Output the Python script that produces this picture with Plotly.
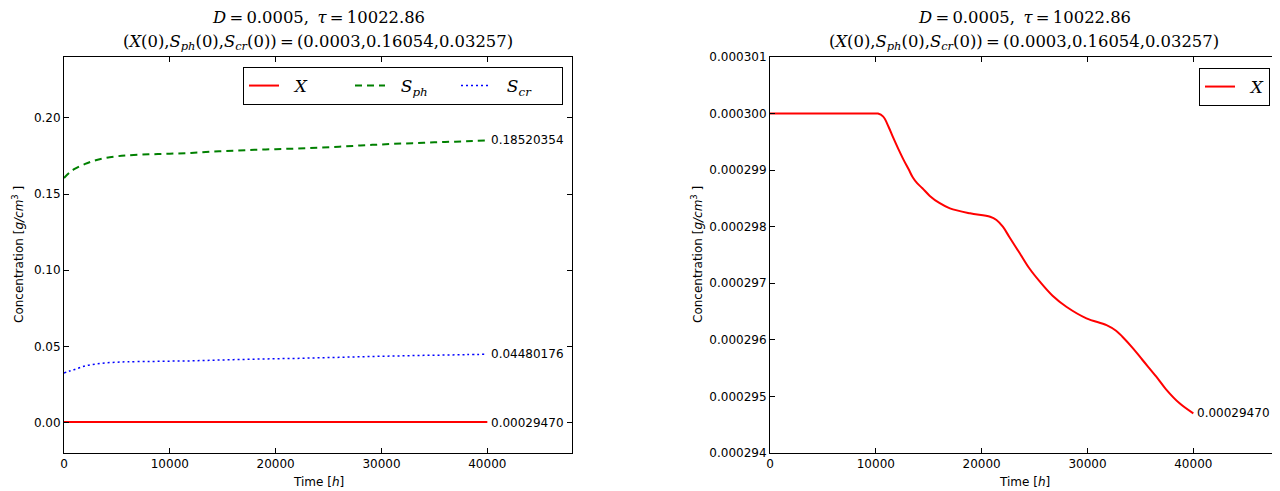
import plotly.graph_objects as go

# ---- data ----
t_x = [0, 2500, 5000, 7500, 9900, 10200, 10700, 11200, 11600, 12100, 12600, 13100, 13500,
       13900, 14400, 15100, 16000, 17000, 18900, 20800, 21400, 22000, 22600, 23600, 24500,
       25500, 26700, 28000, 29900, 31800, 32700, 33300, 34300, 35200, 36500, 37400,
       38700, 40000]
x_vals = [3.0000e-4, 3.0000e-4, 3.0000e-4, 3.0000e-4, 3.0000e-4, 3.0000e-4, 2.99945e-4,
          2.99768e-4, 2.99591e-4, 2.99386e-4, 2.99191e-4, 2.99015e-4, 2.98870e-4,
          2.98770e-4, 2.98680e-4, 2.98545e-4, 2.98420e-4, 2.98325e-4, 2.98237e-4,
          2.98177e-4, 2.98119e-4, 2.98000e-4, 2.97824e-4, 2.97530e-4, 2.97265e-4,
          2.97028e-4, 2.96780e-4, 2.96586e-4, 2.96381e-4, 2.96262e-4, 2.96162e-4,
          2.96056e-4, 2.95851e-4, 2.95644e-4, 2.95349e-4, 2.95130e-4, 2.94878e-4,
          2.94700e-4]

t_s = [0, 500, 1000, 2000, 3000, 4000, 5000, 6000, 8000, 10000, 12000, 14000, 16000,
       18000, 20000, 22000, 24000, 26000, 28000, 30000, 32000, 34000, 36000, 38000, 40000]
s_ph = [0.16054, 0.1640, 0.1665, 0.1698, 0.1722, 0.1738, 0.1748, 0.1754, 0.1761, 0.1765,
        0.1770, 0.1779, 0.1785, 0.1791, 0.1795, 0.1799, 0.1805, 0.1811, 0.1819, 0.1826,
        0.1832, 0.1837, 0.1842, 0.1847, 0.18520354]
s_cr = [0.03257, 0.0338, 0.0348, 0.0372, 0.0384, 0.0392, 0.0396, 0.0399, 0.0401, 0.0403,
        0.0405, 0.0409, 0.0413, 0.0416, 0.0419, 0.0421, 0.0425, 0.0428, 0.0432, 0.0435,
        0.0438, 0.0441, 0.0443, 0.0446, 0.04480176]

end_labels_left = ["0.18520354", "0.04480176", "0.00029470"]
end_label_right = "0.00029470"

x_ticks = [0, 10000, 20000, 30000, 40000]
y_ticks_left = [0.00, 0.05, 0.10, 0.15, 0.20]
y_ticks_right = [0.000294, 0.000295, 0.000296, 0.000297, 0.000298, 0.000299, 0.000300, 0.000301]

title_line1 = "<i>D</i>\u2009=\u20090.0005, \u2009<i>τ</i>\u2009=\u200910022.86"
title_line2 = ("(<i>X</i>(0),<i>S</i><sub><i>ph</i></sub>(0),<i>S</i><sub><i>cr</i></sub>(0))"
               "\u2009=\u2009(0.0003,0.16054,0.03257)")

# ---- figure ----
# the page body adds an 8px offset; work in screen pixels and convert
OFF = 8
W, H = 1272, 483
L1, R1 = 64, 572
L2, R2 = 770, 1278
TOP, BOT = 57, 453

def px(x):
    return (x - OFF) / W

def py(y):
    return 1 - (y - OFF) / H

SERIF = "DejaVu Serif"
SANS = "DejaVu Sans"

fig = go.Figure()

fig.add_trace(go.Scatter(x=t_x, y=x_vals, mode="lines", name="  <i>X</i>",
                         line=dict(color="#ff0000", width=2), xaxis="x", yaxis="y",
                         legend="legend"))
fig.add_trace(go.Scatter(x=t_s, y=s_ph, mode="lines", name="  <i>S</i><sub><i>ph</i></sub>",
                         line=dict(color="#008000", width=2, dash="7px,5px", shape="spline"),
                         xaxis="x", yaxis="y", legend="legend"))
fig.add_trace(go.Scatter(x=t_s, y=s_cr, mode="lines", name="  <i>S</i><sub><i>cr</i></sub>",
                         line=dict(color="#0000ff", width=1.5, dash="2px,3px", shape="spline"),
                         xaxis="x", yaxis="y", legend="legend"))
fig.add_trace(go.Scatter(x=t_x, y=x_vals, mode="lines", name="  <i>X</i>",
                         line=dict(color="#ff0000", width=2, shape="spline", smoothing=1.0),
                         xaxis="x2", yaxis="y2", legend="legend2"))

axis_common = dict(showline=True, linecolor="black", linewidth=1, mirror="ticks",
                   ticks="inside", ticklen=5, tickcolor="black", showgrid=False,
                   zeroline=False, automargin=False,
                   tickfont=dict(family=SANS, size=12, color="black"))

fig.update_layout(
    width=W, height=H,
    margin=dict(l=0, r=0, t=0, b=0, autoexpand=False),
    paper_bgcolor="white", plot_bgcolor="white",
    xaxis=dict(domain=[px(L1), px(R1)], range=[0, 48000], tickvals=x_ticks,
               tickformat="d", anchor="y", **axis_common),
    yaxis=dict(domain=[py(BOT), py(TOP)], range=[-0.02, 0.24], tickvals=y_ticks_left,
               tickformat=".2f", anchor="x", **axis_common),
    xaxis2=dict(domain=[px(L2), px(R2)], range=[0, 48000], tickvals=x_ticks,
                tickformat="d", anchor="y2", **axis_common),
    yaxis2=dict(domain=[py(BOT), py(TOP)], range=[0.000294, 0.000301],
                tickvals=y_ticks_right, tickformat=".6f", anchor="x2", **axis_common),
    legend=dict(orientation="h", x=px(563), y=py(67), xanchor="right", yanchor="top",
                bordercolor="black", borderwidth=1, bgcolor="white",
                font=dict(family=SERIF, size=17, color="black"),
                entrywidth=61, entrywidthmode="pixels", itemwidth=30,
                tracegroupgap=0),
    legend2=dict(orientation="v", x=px(1270), y=py(68), xanchor="right", yanchor="top",
                 bordercolor="black", borderwidth=1, bgcolor="white",
                 font=dict(family=SERIF, size=17, color="black"), itemwidth=30),
    showlegend=True,
)

annotations = []
for cx in [(L1 + R1) / 2, (L2 + R2) / 2]:
    annotations.append(dict(x=px(cx), y=py(18), xref="paper", yref="paper", text=title_line1,
                            showarrow=False, xanchor="center", yanchor="middle",
                            font=dict(family=SERIF, size=16.4, color="black")))
    annotations.append(dict(x=px(cx), y=py(42), xref="paper", yref="paper", text=title_line2,
                            showarrow=False, xanchor="center", yanchor="middle",
                            font=dict(family=SERIF, size=16.4, color="black")))
    annotations.append(dict(x=px(cx), y=py(482), xref="paper", yref="paper",
                            text="Time [<i>h</i>]", showarrow=False, xanchor="center",
                            yanchor="middle", font=dict(family=SANS, size=12, color="black")))

for ax_x in [18, 697]:
    annotations.append(dict(x=px(ax_x), y=py((TOP + BOT) / 2), xref="paper", yref="paper",
                            text="Concentration [<i>g/cm</i><sup>3</sup> ]", textangle=-90,
                            showarrow=False, xanchor="center", yanchor="middle",
                            font=dict(family=SANS, size=12, color="black")))

end_vals_left = [s_ph[-1], s_cr[-1], 0.0]
for txt, yv in zip(end_labels_left, end_vals_left):
    annotations.append(dict(x=t_s[-1], y=yv, xref="x", yref="y", text=txt, showarrow=False,
                            xanchor="left", yanchor="middle", xshift=2,
                            font=dict(family=SANS, size=12, color="black")))
annotations.append(dict(x=t_x[-1], y=x_vals[-1], xref="x2", yref="y2", text=end_label_right,
                        showarrow=False, xanchor="left", yanchor="middle", xshift=2,
                        font=dict(family=SANS, size=12, color="black")))

fig.update_layout(annotations=annotations)
fig.write_html("out.html")
